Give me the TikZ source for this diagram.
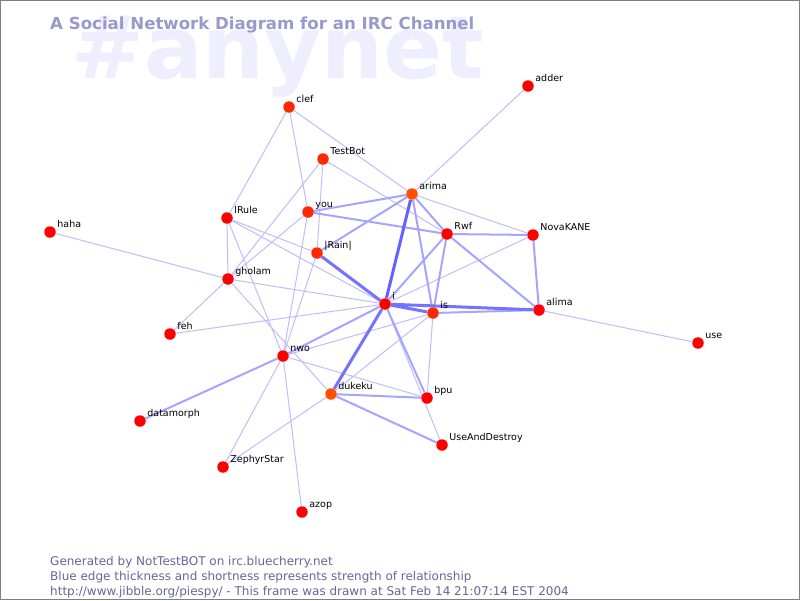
\documentclass[tikz,border=0pt]{standalone}
\usepackage{fontspec}
\setmainfont{DejaVu Sans}
\usetikzlibrary{backgrounds}

\definecolor{nodered}{RGB}{255,0,0}
\definecolor{nodeburnt}{RGB}{255,40,0}
\definecolor{nodeorange}{RGB}{255,80,0}
\definecolor{edgeweak}{RGB}{190,190,255}
\definecolor{edgemid}{RGB}{165,165,255}
\definecolor{edgestrong}{RGB}{115,115,255}
\definecolor{titleblue}{RGB}{153,153,204}
\definecolor{shadowblue}{RGB}{238,238,255}
\definecolor{footgrey}{RGB}{102,102,153}

\tikzset{
  lbl/.style={anchor=base west, inner sep=0pt, xshift=3pt,
    font=\fontsize{9.5}{10}\selectfont},
  person/.style={circle, fill=nodered, inner sep=0pt, minimum size=11.5pt,
    label={[lbl]45:#1}},
  weak/.style={edgeweak, line width=1pt},
  mid/.style={edgemid, line width=2pt},
  strong/.style={edgestrong, line width=3pt},
  footer/.style={anchor=base west, inner sep=0pt, text=footgrey,
    font=\fontsize{12}{14}\selectfont}
}

\begin{document}
\begin{tikzpicture}[x=1pt, y=-1pt]
  \useasboundingbox (0,0) rectangle (800,600);

  % people
  \node[person=clef, fill=nodeburnt] (clef) at (289,107) {};
  \node[person=adder] (adder) at (528,86) {};
  \node[person=TestBot, fill=nodeburnt] (TestBot) at (323,159) {};
  \node[person=arima, fill=nodeorange] (arima) at (412,194) {};
  \node[person=you, fill=nodeburnt] (you) at (308,212) {};
  \node[person=lRule] (lRule) at (227,218) {};
  \node[person=Rwf] (Rwf) at (447,234) {};
  \node[person=NovaKANE] (NovaKANE) at (533,235) {};
  \node[person=haha] (haha) at (50,232) {};
  \node[person={|Rain|}, fill=nodeburnt] (rain) at (317,253) {};
  \node[person=gholam] (gholam) at (228,279) {};
  \node[person=i] (i) at (385,304) {};
  \node[person=is, fill=nodeburnt] (is) at (433,313) {};
  \node[person=alima] (alima) at (539,310) {};
  \node[person=use] (use) at (698,343) {};
  \node[person=feh] (feh) at (170,334) {};
  \node[person=nwo] (nwo) at (283,356) {};
  \node[person=dukeku, fill=nodeorange] (dukeku) at (331,394) {};
  \node[person=bpu] (bpu) at (427,398) {};
  \node[person=datamorph] (datamorph) at (140,421) {};
  \node[person=UseAndDestroy] (UseAndDestroy) at (442,445) {};
  \node[person=ZephyrStar] (ZephyrStar) at (223,467) {};
  \node[person=azop] (azop) at (302,512) {};

  \begin{scope}[on background layer]
    \fill[white] (0,0) rectangle (800,600);
    \node[anchor=base west, inner sep=0pt, text=shadowblue,
      font=\fontsize{87}{90}\bfseries] (channel) at (71,78) {\#anynet};
    \node[anchor=base west, inner sep=0pt, text=titleblue,
      font=\fontsize{16.6}{19}\bfseries] (title) at (50,29)
      {A Social Network Diagram for an IRC Channel};

    % relationships
    \draw[weak] (clef) -- (lRule) (clef) -- (you) (clef) -- (arima)
      (adder) -- (arima) (TestBot) -- (gholam) (TestBot) -- (rain)
      (TestBot) -- (Rwf) (arima) -- (NovaKANE) (you) -- (gholam)
      (you) -- (nwo) (lRule) -- (gholam) (lRule) -- (nwo)
      (lRule) -- (rain) (lRule) -- (i) (haha) -- (gholam)
      (feh) -- (gholam) (feh) -- (i) (gholam) -- (i)
      (gholam) -- (dukeku) (rain) -- (nwo) (nwo) -- (ZephyrStar)
      (nwo) -- (azop) (nwo) -- (bpu) (nwo) -- (is)
      (dukeku) -- (ZephyrStar) (dukeku) -- (is) (is) -- (bpu)
      (alima) -- (use) (i) -- (NovaKANE) (i) -- (UseAndDestroy);
    \draw[mid] (arima) -- (you) (arima) -- (rain) (arima) -- (Rwf)
      (arima) -- (is) (you) -- (Rwf) (Rwf) -- (i) (Rwf) -- (is)
      (Rwf) -- (NovaKANE) (Rwf) -- (alima) (NovaKANE) -- (alima)
      (is) -- (alima) (nwo) -- (datamorph) (nwo) -- (i)
      (dukeku) -- (bpu) (dukeku) -- (UseAndDestroy) (i) -- (bpu);
    \draw[strong] (rain) -- (i) (i) -- (alima) (i) -- (dukeku) (i) -- (is);
    \draw[strong, edgestrong!85!blue] (arima) -- (i);
  \end{scope}

  \node[footer] (gen) at (50,565) {Generated by NotTestBOT on irc.bluecherry.net};
  \node[footer] (legend) at (50,580) {Blue edge thickness and shortness represents strength of relationship};
  \node[footer] (stamp) at (50,595) {http://www.jibble.org/piespy/ - This frame was drawn at Sat Feb 14 21:07:14 EST 2004};

  \draw[gray, line width=1pt] (0.5,0.5) rectangle (799.5,599.5);
\end{tikzpicture}
\end{document}
